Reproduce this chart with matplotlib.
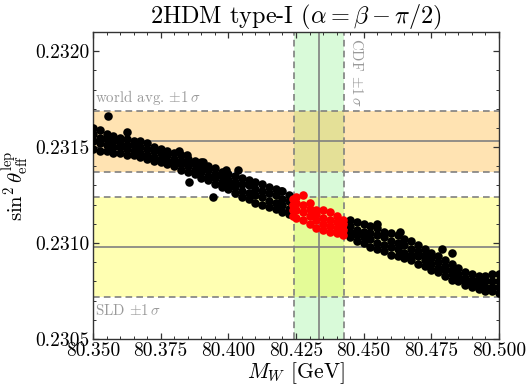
#!/usr/bin/env python3
"""sin^2 theta_eff vs M_W scatter in the 2HDM type-I with world avg, SLD and CDF bands."""

import matplotlib

matplotlib.use("Agg")
import matplotlib.pyplot as plt
import numpy as np

# Experimental bands: (central, 1 sigma)
WORLD_AVG = (0.23153, 0.00016)
SLD = (0.23098, 0.00026)
CDF_MW = (80.4335, 0.0094)

# Scan points: one column per M_W value, four sin^2 values each
BLACK_X = [
    80.3500, 80.3525, 80.3550, 80.3575, 80.3600, 80.3625, 80.3650, 80.3675,
    80.3700, 80.3725, 80.3750, 80.3775, 80.3800, 80.3825, 80.3850, 80.3875,
    80.3900, 80.3925, 80.3950, 80.3975, 80.4000, 80.4025, 80.4050, 80.4075,
    80.4100, 80.4125, 80.4150, 80.4175, 80.4200, 80.4225,
    80.4450, 80.4475, 80.4500, 80.4525, 80.4550, 80.4575, 80.4600, 80.4625,
    80.4650, 80.4675, 80.4700, 80.4725, 80.4750, 80.4775, 80.4800, 80.4825,
    80.4850, 80.4875, 80.4900, 80.4925, 80.4950, 80.4975, 80.5000,
]
BLACK_Y = [
    [0.23149, 0.23153, 0.23157, 0.23160],
    [0.23148, 0.23152, 0.23155, 0.23159],
    [0.23148, 0.23151, 0.23154, 0.23157],
    [0.23147, 0.23150, 0.23153, 0.23156],
    [0.23147, 0.23150, 0.23152, 0.23155],
    [0.23146, 0.23149, 0.23151, 0.23154],
    [0.23146, 0.23148, 0.23151, 0.23153],
    [0.23145, 0.23147, 0.23150, 0.23153],
    [0.23144, 0.23146, 0.23149, 0.23152],
    [0.23143, 0.23145, 0.23148, 0.23150],
    [0.23142, 0.23144, 0.23147, 0.23149],
    [0.23141, 0.23143, 0.23146, 0.23148],
    [0.23140, 0.23142, 0.23144, 0.23147],
    [0.23138, 0.23141, 0.23143, 0.23146],
    [0.23137, 0.23140, 0.23142, 0.23144],
    [0.23136, 0.23138, 0.23141, 0.23143],
    [0.23134, 0.23137, 0.23139, 0.23142],
    [0.23133, 0.23135, 0.23138, 0.23140],
    [0.23131, 0.23134, 0.23136, 0.23139],
    [0.23129, 0.23132, 0.23135, 0.23137],
    [0.23128, 0.23131, 0.23133, 0.23136],
    [0.23126, 0.23129, 0.23132, 0.23135],
    [0.23124, 0.23127, 0.23131, 0.23134],
    [0.23123, 0.23126, 0.23130, 0.23133],
    [0.23121, 0.23125, 0.23128, 0.23132],
    [0.23120, 0.23124, 0.23127, 0.23131],
    [0.23119, 0.23122, 0.23126, 0.23129],
    [0.23118, 0.23121, 0.23125, 0.23128],
    [0.23116, 0.23120, 0.23123, 0.23127],
    [0.23115, 0.23118, 0.23122, 0.23125],
    [0.23103, 0.23106, 0.23109, 0.23112],
    [0.23101, 0.23104, 0.23107, 0.23111],
    [0.23100, 0.23103, 0.23106, 0.23110],
    [0.23098, 0.23102, 0.23105, 0.23109],
    [0.23097, 0.23100, 0.23104, 0.23108],
    [0.23096, 0.23099, 0.23103, 0.23106],
    [0.23094, 0.23098, 0.23101, 0.23105],
    [0.23093, 0.23097, 0.23100, 0.23104],
    [0.23092, 0.23095, 0.23099, 0.23102],
    [0.23091, 0.23094, 0.23097, 0.23101],
    [0.23089, 0.23093, 0.23096, 0.23099],
    [0.23088, 0.23091, 0.23094, 0.23097],
    [0.23086, 0.23089, 0.23092, 0.23095],
    [0.23085, 0.23087, 0.23090, 0.23093],
    [0.23083, 0.23086, 0.23088, 0.23091],
    [0.23081, 0.23084, 0.23086, 0.23089],
    [0.23080, 0.23082, 0.23084, 0.23087],
    [0.23078, 0.23080, 0.23082, 0.23085],
    [0.23077, 0.23079, 0.23081, 0.23084],
    [0.23076, 0.23078, 0.23080, 0.23083],
    [0.23075, 0.23077, 0.23080, 0.23083],
    [0.23075, 0.23077, 0.23080, 0.23084],
    [0.23074, 0.23077, 0.23080, 0.23084],
]

# Scattered outliers around the band
OUTLIER_X = [80.3555, 80.3626, 80.3818, 80.3847, 80.3855, 80.3906, 80.3943,
             80.3991, 80.4036, 80.4194, 80.4549, 80.4634, 80.4789, 80.4826]
OUTLIER_Y = [0.23166, 0.23158, 0.23148, 0.23146, 0.23132, 0.23142, 0.23124,
             0.23138, 0.23138, 0.23127, 0.23110, 0.23106, 0.23097, 0.23095]

# Points that fall inside the CDF band (drawn in red)
RED_X = [80.4240, 80.4250, 80.4275, 80.4300, 80.4325, 80.4350, 80.4375, 80.4400, 80.4425]
RED_Y = [
    [0.23114, 0.23117, 0.23120, 0.23123],
    [0.23113, 0.23117, 0.23121, 0.23124],
    [0.23112, 0.23116, 0.23120, 0.23125],
    [0.23110, 0.23114, 0.23118, 0.23121],
    [0.23108, 0.23112, 0.23115, 0.23117],
    [0.23107, 0.23110, 0.23113, 0.23117],
    [0.23106, 0.23109, 0.23112, 0.23116],
    [0.23105, 0.23108, 0.23111, 0.23114],
    [0.23104, 0.23107, 0.23110, 0.23112],
]


def flatten(xs, ys):
    px, py = [], []
    for x, col in zip(xs, ys):
        for y in col:
            px.append(x)
            py.append(y)
    return np.array(px), np.array(py)


def main() -> None:
    plt.rcParams.update(
        {
            "font.family": "serif",
            "font.serif": ["cmr10", "DejaVu Serif"],
            "mathtext.fontset": "cm",
            "axes.formatter.use_mathtext": True,
            "axes.unicode_minus": False,
        }
    )

    fig = plt.figure(figsize=(5.27, 3.85), dpi=100)
    ax = fig.add_axes([0.1765, 0.1195, 0.7704, 0.7974])

    xmin, xmax = 80.350, 80.500
    ymin, ymax = 0.2305, 0.23210
    grey = "#808080"

    # Horizontal bands
    wc, ws = WORLD_AVG
    ax.axhspan(wc - ws, wc + ws, color="#FFA500", alpha=0.3, lw=0, zorder=1)
    sc, ss = SLD
    ax.axhspan(sc - ss, sc + ss, color="#FFFF00", alpha=0.3, lw=0, zorder=1)
    # Vertical CDF band
    cc, cs = CDF_MW
    ax.axvspan(cc - cs, cc + cs, color="#00E000", alpha=0.15, lw=0, zorder=0.9)

    dash = dict(color=grey, lw=1.2, ls=(0, (4, 2.5)), zorder=2)
    solid = dict(color=grey, lw=1.2, zorder=2)
    for c, s in [(wc, ws), (sc, ss)]:
        ax.axhline(c, **solid)
        ax.axhline(c - s, **dash)
        ax.axhline(c + s, **dash)
    ax.axvline(cc, **solid)
    ax.axvline(cc - cs, **dash)
    ax.axvline(cc + cs, **dash)

    bx, by = flatten(BLACK_X, BLACK_Y)
    ax.scatter(bx, by, s=38, c="black", lw=0, zorder=3)
    ax.scatter(OUTLIER_X, OUTLIER_Y, s=38, c="black", lw=0, zorder=3)
    rx, ry = flatten(RED_X, RED_Y)
    ax.scatter(rx, ry, s=38, c="red", lw=0, zorder=4)

    txt_col = "#9a9a9a"
    ax.text(xmin + 0.0008, wc + ws + 0.00002, r"world avg. $\pm1\,\sigma$",
            color=txt_col, fontsize=10.8, ha="left", va="bottom")
    ax.text(xmin + 0.0008, sc - ss - 0.00003, r"SLD $\pm1\,\sigma$",
            color=txt_col, fontsize=10.8, ha="left", va="top")
    ax.text(cc + cs + 0.0016, ymax - 0.00003, r"CDF $\pm1\,\sigma$",
            color=txt_col, fontsize=10.8, ha="left", va="top", rotation=270)

    ax.set_xlim(xmin, xmax)
    ax.set_ylim(ymin, ymax)
    ax.set_xticks(np.arange(80.350, 80.5001, 0.025))
    ax.set_xticklabels([f"{v:.3f}" for v in np.arange(80.350, 80.5001, 0.025)])
    ax.set_xticks(np.arange(80.350, 80.5001, 0.005), minor=True)
    ax.set_yticks([0.2305, 0.2310, 0.2315, 0.2320])
    ax.set_yticklabels(["0.2305", "0.2310", "0.2315", "0.2320"])
    ax.set_yticks(np.arange(0.2305, 0.23211, 0.0001), minor=True)
    ax.tick_params(which="both", direction="in", top=True, right=True, labelsize=14, color="#333333")
    ax.tick_params(which="major", length=4.5, width=0.9, pad=2.5)
    ax.tick_params(which="minor", length=2.5, width=0.7)
    for sp in ax.spines.values():
        sp.set_color("#333333")
        sp.set_linewidth(1.0)

    ax.set_xlabel(r"$M_W$ [GeV]", fontsize=15.5, labelpad=0)
    ax.set_ylabel(r"$\sin^2\theta_{\rm eff}^{\rm lep}$", fontsize=15, labelpad=3)
    ax.set_title(r"2HDM type-I $(\alpha=\beta-\pi/2)$", fontsize=17.5, pad=3)

    fig.savefig("out.png", dpi=100)


if __name__ == "__main__":
    main()
